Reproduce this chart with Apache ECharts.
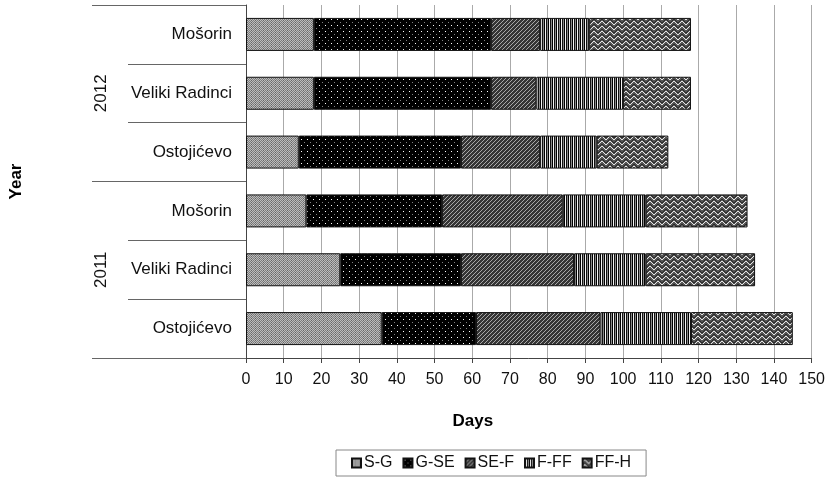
<!DOCTYPE html>
<html lang="en">
<head>
    <meta charset="UTF-8">
    <title>Days by stage</title>
    <script src="https://cdn.jsdelivr.net/npm/echarts@6.0.0/dist/echarts.min.js"></script>
    <style>
        html, body { margin: 0; padding: 0; background: #fff; }
        #chart { width: 828px; height: 478px; }
    </style>
</head>
<body>
    <div id="chart"></div>
<script>
    // rows from bottom to top, "year|site"
    var rows = ['2011|Ostojićevo', '2011|Veliki Radinci', '2011|Mošorin',
                '2012|Ostojićevo', '2012|Veliki Radinci', '2012|Mošorin'];
    var years = ['2011', '2012'];
    var stages = ['S-G', 'G-SE', 'SE-F', 'F-FF', 'FF-H'];

    // days spent in each stage
    var sg  = [36, 25, 16, 14, 18, 18];
    var gse = [25, 32, 36, 43, 47, 47];
    var sef = [33, 30, 32, 21, 12, 13];
    var fff = [24, 19, 22, 15, 23, 13];
    var ffh = [27, 29, 27, 19, 18, 27];
    var stageData = [sg, gse, sef, fff, ffh];

    var xTicks = { min: 0, max: 150, interval: 10 };

    // little canvas tiles for the hatch fills
    function tile(w, h, draw) {
        var c = document.createElement('canvas');
        c.width = w; c.height = h;
        var ctx = c.getContext('2d');
        draw(ctx, w, h);
        return { image: c, repeat: 'repeat' };
    }
    function px(ctx, x, y, col) { ctx.fillStyle = col; ctx.fillRect(x, y, 1, 1); }

    var fills = [
        // S-G : fine grey checker
        tile(4, 4, function (ctx) {
            ctx.fillStyle = '#7c7c7c'; ctx.fillRect(0, 0, 4, 4);
            for (var y = 0; y < 4; y++) for (var x = 0; x < 4; x++) {
                if ((x + y) % 2 === 0) px(ctx, x, y, '#bcbcbc');
            }
            px(ctx, 3, 0, '#666'); px(ctx, 3, 2, '#666');
        }),
        // G-SE : black with sparse dots
        tile(6, 6, function (ctx) {
            ctx.fillStyle = '#000'; ctx.fillRect(0, 0, 6, 6);
            px(ctx, 1, 1, '#ffffff');
            px(ctx, 4, 4, '#808080');
        }),
        // SE-F : diagonal stripes
        tile(4, 4, function (ctx) {
            ctx.fillStyle = '#353535'; ctx.fillRect(0, 0, 4, 4);
            for (var y = 0; y < 4; y++) for (var x = 0; x < 4; x++) {
                if ((x + y) % 4 === 3) px(ctx, x, y, '#a8a8a8');
            }
        }),
        // F-FF : vertical stripes
        tile(4, 2, function (ctx) {
            var cols = ['#000', '#f4f4f4', '#111', '#8a8a8a'];
            for (var x = 0; x < 4; x++) { ctx.fillStyle = cols[x]; ctx.fillRect(x, 0, 1, 2); }
        }),
        // FF-H : wavy lines
        tile(8, 5, function (ctx) {
            ctx.fillStyle = '#555'; ctx.fillRect(0, 0, 8, 5);
            var ys = [2, 1, 1, 2, 3, 4, 4, 3];
            for (var x = 0; x < 8; x++) px(ctx, x, ys[x], '#e6e6e6');
            var ys2 = [0, 4, 4, 0, 1, 2, 2, 1];
            for (var x2 = 0; x2 < 8; x2++) px(ctx, x2, ys2[x2], '#2a2a2a');
        })
    ];

    var font = 'Liberation Sans';

    var series = stages.map(function (name, i) {
        return {
            name: name,
            type: 'bar',
            stack: 'days',
            barWidth: 33,
            data: stageData[i],
            itemStyle: { color: fills[i], borderColor: '#111', borderWidth: 1 },
            emphasis: { disabled: true }
        };
    });

    var chart = echarts.init(document.getElementById('chart'));
    chart.setOption({
        animation: false,
        textStyle: { fontFamily: font },
        grid: { left: 244, right: 14, top: 5, bottom: 120 },
        xAxis: {
            type: 'value',
            min: xTicks.min, max: xTicks.max, interval: xTicks.interval,
            name: 'Days',
            nameLocation: 'middle',
            nameGap: 55,
            nameTextStyle: { fontSize: 17, fontWeight: 'bold', color: '#000', padding: [0, 112, 0, 0] },
            axisLine: { show: true, lineStyle: { color: '#444' } },
            axisTick: { show: true, length: 5, lineStyle: { color: '#444' } },
            axisLabel: { fontSize: 16, color: '#111', margin: 14 },
            splitLine: { show: true, lineStyle: { color: '#aaa' } }
        },
        yAxis: [{
            type: 'category',
            position: 'left',
            data: rows,
            axisLine: { show: true, lineStyle: { color: '#444' } },
            axisTick: { show: true, length: 118, lineStyle: { color: '#666' } },
            axisLabel: {
                fontSize: 17, color: '#111', margin: 14,
                formatter: function (v) { return v.split('|')[1]; }
            },
            splitLine: { show: false }
        }, {
            type: 'category',
            position: 'left',
            data: years,
            name: 'Year',
            nameLocation: 'middle',
            nameRotate: 90,
            nameGap: 221,
            nameTextStyle: { fontSize: 17, fontWeight: 'bold', color: '#000' },
            axisLine: { show: false },
            axisTick: { show: true, length: 154, lineStyle: { color: '#666' } },
            axisLabel: { fontSize: 17, color: '#111', rotate: 90, margin: 136 },
            splitLine: { show: false }
        }],
        legend: {
            data: stages,
            left: 336,
            top: 450,
            padding: [5, 15, 5, 15],
            borderColor: '#888',
            borderWidth: 1,
            itemWidth: 9,
            itemHeight: 9,
            itemGap: 10,
            icon: 'rect',
            selectedMode: false,
            textStyle: { fontSize: 16, color: '#111', padding: [0, 0, 0, -2] }
        },
        series: series
    });
</script>
</body>
</html>
